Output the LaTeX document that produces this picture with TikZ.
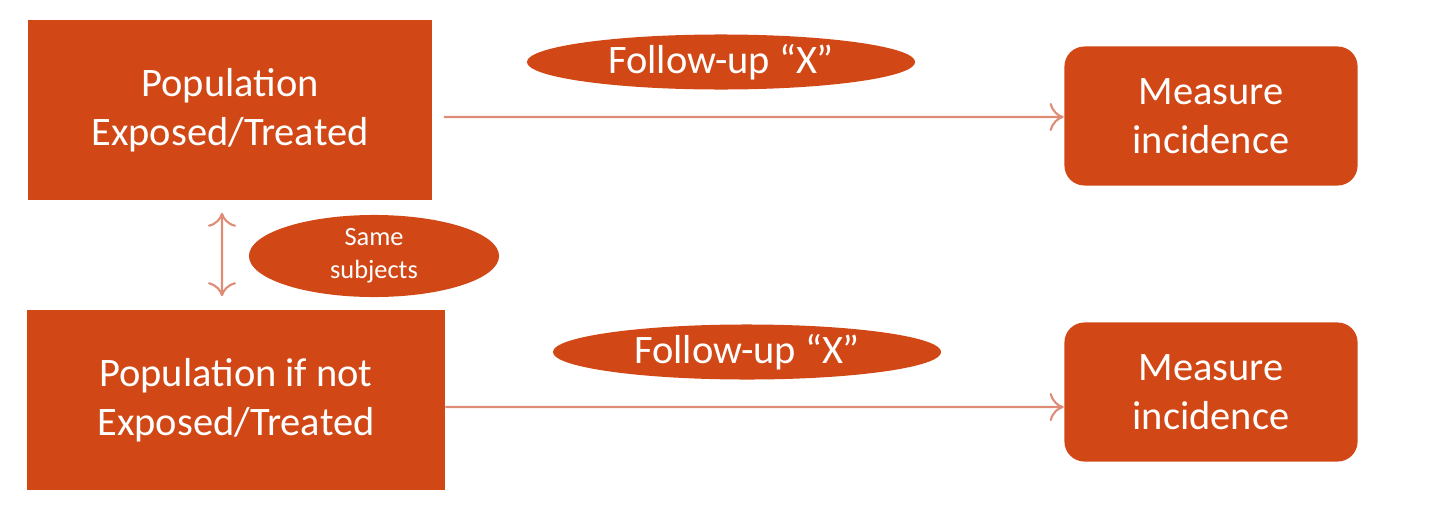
\documentclass[tikz,border=0pt]{standalone}
\usepackage{fontspec}
\setmainfont{Carlito}
\usepackage{tikz}
\usetikzlibrary{positioning}
\usetikzlibrary{arrows}
\usetikzlibrary{arrows.meta}
\usetikzlibrary{shapes,calc}
\definecolor{myorange}{RGB}{209,72,22}
\definecolor{myarrow}{RGB}{222,140,118}

\begin{document}
\begin{tikzpicture}[x=0.01cm,y=-0.01cm]
	\useasboundingbox (0,0) rectangle (1440,515);
	\begin{scope}[every node/.style={fill=myorange,text=white,inner sep=0pt,align=center,
	              font=\fontsize{11.5}{13.8}\selectfont}]
	    \node[minimum width=4.04cm, minimum height=1.80cm] (popT) at (230,110) {Population\\Exposed/Treated};
	    \node[minimum width=4.17cm, minimum height=1.80cm] (popU) at (236,400) {Population if not\\Exposed/Treated};
	    \node[rounded corners=0.2cm, minimum width=2.93cm, minimum height=1.39cm] (incT) at (1211,116) {Measure\\incidence};
	    \node[rounded corners=0.2cm, minimum width=2.93cm, minimum height=1.39cm] (incU) at (1211,392) {Measure\\incidence};
	    \node[ellipse, minimum width=3.88cm, minimum height=0.55cm] (fupT) at (721,62) {Follow-up “X”};
	    \node[ellipse, minimum width=3.88cm, minimum height=0.55cm] (fupU) at (747,352) {Follow-up “X”};
	    \node[ellipse, minimum width=2.50cm, minimum height=0.82cm,
	          font=\fontsize{7.5}{9.4}\selectfont] (same) at (374,256) {Same\\subjects};
	\end{scope}

	\begin{scope}[every edge/.style={draw=myarrow, semithick}]
    	\path [-{To[length=4pt,width=8pt]}] ([xshift=0.11cm,yshift=-0.07cm]popT.east) edge ([yshift=-0.01cm]incT.west);
    	\path [-{To[length=4pt,width=8pt]}] ([yshift=-0.07cm]popU.east) edge ([yshift=-0.15cm]incU.west);
    	\path [{To[length=4pt,width=8pt]}-{To[length=4pt,width=8pt]}] ([xshift=-0.08cm,yshift=-0.12cm]popT.south)
    	      edge ([xshift=-0.14cm,yshift=0.13cm]popU.north);
	\end{scope}
\end{tikzpicture}
\end{document}
